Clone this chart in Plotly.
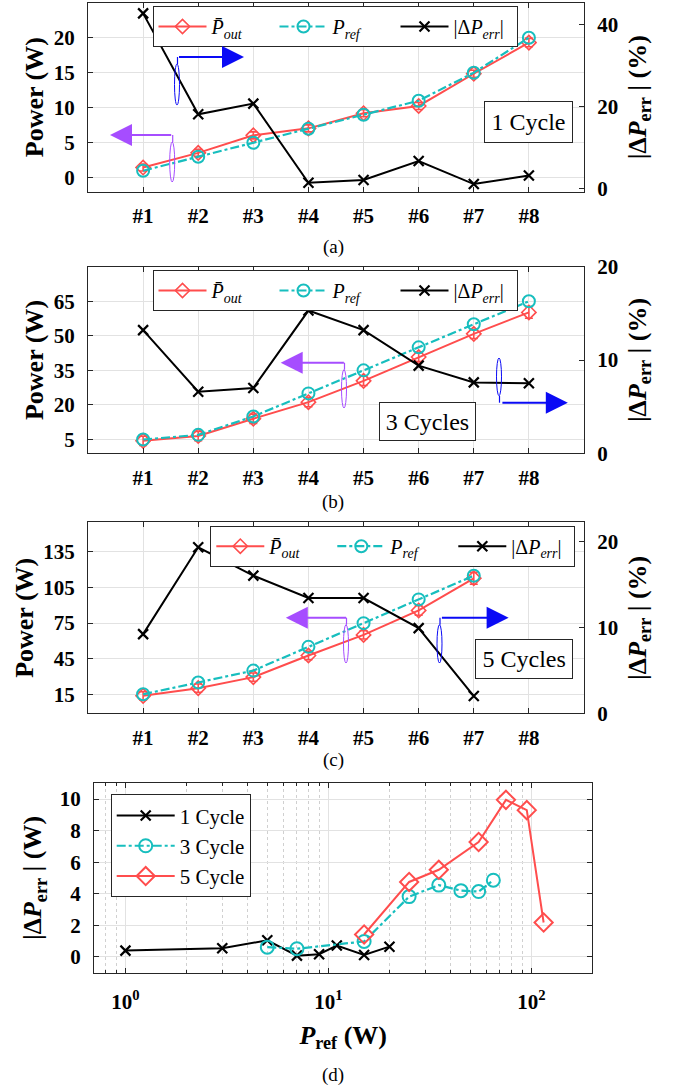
import plotly.graph_objects as go

W, H = 676, 1089

# ---------------- data ----------------
cats = ['#1', '#2', '#3', '#4', '#5', '#6', '#7', '#8']

# (a) 1 cycle
a_pout = [1.45, 3.55, 6.05, 7.05, 9.2, 10.25, 14.85, 19.3]
a_pout_bar = [0.5, 0.5, 0.5, 0.5, 0.5, 0.5, 0.5, 0.6]
a_pref = [1, 3, 5, 7, 9, 11, 15, 20]
a_err = [42.8, 18.2, 20.8, 1.5, 2.2, 6.8, 1.2, 3.3]

# (b) 3 cycles
b_pout = [4.4, 6.5, 14.0, 21.2, 30.45, 40.8, 50.85, 60.15]
b_pout_bar = [2.0, 2.0, 2.0, 2.0, 2.0, 2.0, 2.0, 2.5]
b_pref = [5, 7, 15, 25, 35, 45, 55, 65]
b_err = [13.2, 6.6, 7.0, 15.3, 13.2, 9.4, 7.6, 7.5]

# (c) 5 cycles
c_pout = [13.7, 20.2, 29.5, 47.7, 65.1, 85.7, 112.8]
c_pout_bar = [3.5, 3.5, 3.5, 3.5, 3.5, 4.0, 5.0]
c_pref = [15, 25, 35, 55, 75, 95, 115]
c_err = [9.2, 19.3, 16.0, 13.4, 13.4, 9.9, 2.0]

# (d) absolute error vs reference power
d1_x = [1, 3, 5, 7, 9, 11, 15, 20]
d1_y = [0.4, 0.55, 1.05, 0.08, 0.17, 0.72, 0.12, 0.65]
d3_x = [5, 7, 15, 25, 35, 45, 55, 65]
d3_y = [0.62, 0.52, 0.98, 3.82, 4.55, 4.2, 4.14, 4.86]
d5_x = [15, 25, 35, 55, 75, 95, 115]
d5_y = [1.42, 4.75, 5.52, 7.28, 9.95, 9.3, 2.18]

# ---------------- style ----------------
RED = '#FF4D4D'
CYAN = '#17BEBE'
BLACK = '#000000'
BLUE = '#0A0AF5'
PURPLE = '#A64DFF'
SERIF = 'Times New Roman, Liberation Serif, Tinos, DejaVu Serif, serif'
GRID = '#E2E2E2'
AXC = '#262626'


def px(x):
    return x / W


def py(y):
    return 1 - y / H


tickfont = dict(family=SERIF, size=21, color='black', weight='bold')
titlefont = dict(family=SERIF, size=26, color='black', weight='bold')
legfont = dict(family=SERIF, size=20, color='black')

fig = go.Figure()

xidx = [i + 1 for i in range(len(cats))]

panels = [
    ('x', 'y', 'y2', a_pout, a_pout_bar, a_pref, a_err, 'legend'),
    ('x2', 'y3', 'y4', b_pout, b_pout_bar, b_pref, b_err, 'legend2'),
    ('x3', 'y5', 'y6', c_pout, c_pout_bar, c_pref, c_err, 'legend3'),
]

for xa, yl, yr, pout, bar, pref, err, leg in panels:
    n = len(pout)
    xs = xidx[:n]
    fig.add_trace(go.Scatter(
        x=xs, y=pout, xaxis=xa, yaxis=yl, legend=leg,
        name='<i>P̄</i><sub><i>out</i></sub>', mode='lines+markers',
        line=dict(color=RED, width=2),
        marker=dict(symbol='diamond-open', size=11, color=RED, line=dict(width=1.6, color=RED)),
        error_y=dict(type='data', array=bar, color=RED, thickness=1.6, width=4),
    ))
    fig.add_trace(go.Scatter(
        x=xs, y=pref, xaxis=xa, yaxis=yl, legend=leg,
        name='<i>P</i><sub><i>ref</i></sub>', mode='lines+markers',
        line=dict(color=CYAN, width=2.2, dash='dashdot'),
        marker=dict(symbol='circle-open', size=12, color=CYAN, line=dict(width=2, color=CYAN)),
    ))
    fig.add_trace(go.Scatter(
        x=xs, y=err, xaxis=xa, yaxis=yr, legend=leg,
        name='|Δ<i>P</i><sub><i>err</i></sub>|', mode='lines+markers',
        line=dict(color=BLACK, width=2),
        marker=dict(symbol='x-thin-open', size=10, color=BLACK, line=dict(width=2.2, color=BLACK)),
    ))

# (d)
fig.add_trace(go.Scatter(
    x=d1_x, y=d1_y, xaxis='x4', yaxis='y7', legend='legend4', name='1 Cycle',
    mode='lines+markers', line=dict(color=BLACK, width=2),
    marker=dict(symbol='x-thin-open', size=10, color=BLACK, line=dict(width=2.2, color=BLACK)),
))
fig.add_trace(go.Scatter(
    x=d3_x, y=d3_y, xaxis='x4', yaxis='y7', legend='legend4', name='3 Cycle',
    mode='lines+markers', line=dict(color=CYAN, width=2.2, dash='dashdot'),
    marker=dict(symbol='circle-open', size=13, color=CYAN, line=dict(width=2, color=CYAN)),
))
fig.add_trace(go.Scatter(
    x=d5_x, y=d5_y, xaxis='x4', yaxis='y7', legend='legend4', name='5 Cycle',
    mode='lines+markers', line=dict(color=RED, width=2),
    marker=dict(symbol='diamond-open', size=14, color=RED, line=dict(width=2, color=RED)),
))

# ---------------- axes ----------------
xdom = [px(88), px(584)]
rows = [  # (top, bottom) pixel rows of each frame in the reference
    (2.7, 191.7),
    (266.7, 453.3),
    (522.3, 713.3),
]
left_ranges = [[-2, 25], [-1, 80], [-1, 160]]
left_ticks = [[0, 5, 10, 15, 20], [5, 20, 35, 50, 65], [15, 45, 75, 105, 135]]
right_ranges = [[-0.66, 45.4], [0, 20], [0, 22.2]]
right_ticks = [[0, 20, 40], [0, 10, 20], [0, 10, 20]]

common_axis = dict(showline=True, linecolor=AXC, linewidth=1, ticks='inside', ticklen=5,
                   tickcolor=AXC, zeroline=False, tickfont=tickfont, automargin=False)

right_title = '<b>|Δ<i>P</i><sub>err</sub> | (%)</b>'
left_title = '<b>Power (W)</b>'

for i, (top, bot) in enumerate(rows):
    xn = 'xaxis' if i == 0 else f'xaxis{i + 1}'
    yln = 'yaxis' if i == 0 else f'yaxis{2 * i + 1}'
    yrn = f'yaxis{2 * i + 2}'
    xid = 'x' if i == 0 else f'x{i + 1}'
    ylid = 'y' if i == 0 else f'y{2 * i + 1}'
    dom = [py(bot), py(top)]
    fig.layout[xn] = dict(common_axis, domain=xdom, range=[0, 9], anchor=ylid,
                          tickmode='array', tickvals=xidx, ticktext=cats,
                          showgrid=True, gridcolor=GRID, mirror='ticks',
                          ticklabelstandoff=5)
    fig.layout[yln] = dict(common_axis, domain=dom, range=left_ranges[i], anchor=xid,
                           tickmode='array', tickvals=left_ticks[i], showgrid=True,
                           gridcolor=GRID, mirror=True, ticklabelstandoff=8,
                           title=dict(text=left_title, font=titlefont, standoff=2))
    fig.layout[yrn] = dict(common_axis, domain=dom, range=right_ranges[i], anchor=xid,
                           overlaying=ylid, side='right', tickmode='array',
                           tickvals=right_ticks[i], showgrid=False, ticklabelstandoff=8,
                           title=dict(text=right_title, font=titlefont, standoff=10))

# (d) axes
minor_vals = [0.7, 0.8, 0.9, 2, 3, 4, 5, 6, 7, 8, 9, 20, 30, 40, 50, 60, 70, 80, 90, 200]
fig.layout['xaxis4'] = dict(common_axis, type='log', domain=[px(94), px(592.4)],
                            range=[-0.1549, 2.301], anchor='y7', mirror='ticks',
                            tickmode='array', tickvals=[1, 10, 100],
                            ticktext=['10<sup>0</sup>', '10<sup>1</sup>', '10<sup>2</sup>'],
                            showgrid=True, gridcolor=GRID, ticklabelstandoff=10,
                            minor=dict(tickmode='array', tickvals=minor_vals, ticks='inside',
                                       ticklen=3, tickcolor=AXC, showgrid=True,
                                       gridcolor='#D0D0D0', griddash='dot'),
                            title=dict(text='<b><i>P</i><sub>ref</sub> (W)</b>', font=titlefont,
                                       standoff=12))
fig.layout['yaxis7'] = dict(common_axis, domain=[py(972.7), py(783.3)], range=[-1, 11],
                            anchor='x4', mirror='ticks', tickmode='array',
                            tickvals=[0, 2, 4, 6, 8, 10], showgrid=True, gridcolor=GRID,
                            ticklabelstandoff=8,
                            title=dict(text='<b>|Δ<i>P</i><sub>err</sub> | (W)</b>',
                                       font=titlefont, standoff=10))

# ---------------- legends ----------------
hleg = dict(orientation='h', font=legfont, bgcolor='white', bordercolor=AXC, borderwidth=1,
            xanchor='left', yanchor='top', itemwidth=48, entrywidth=58,
            entrywidthmode='pixels', tracegroupgap=0)
fig.layout.legend = dict(hleg, x=px(152.5), y=py(6))
fig.layout.legend2 = dict(hleg, x=px(152.5), y=py(270))
fig.layout.legend3 = dict(hleg, x=px(210.3), y=py(525.7))
fig.layout.legend4 = dict(orientation='v', font=dict(family=SERIF, size=21, color='black'),
                          bgcolor='white', bordercolor=AXC, borderwidth=1,
                          xanchor='left', yanchor='top', x=px(110.7), y=py(794.3),
                          itemwidth=58, tracegroupgap=0)

# ---------------- annotations ----------------
ann = []
for lab, yy in [('(a)', 247), ('(b)', 502), ('(c)', 760), ('(d)', 1075)]:
    ann.append(dict(text=lab, x=px(333), y=py(yy), xref='paper', yref='paper',
                    showarrow=False, font=dict(family=SERIF, size=19, color='black'),
                    xanchor='center', yanchor='middle'))

for txt, x0, x1, y0, y1 in [('1 Cycle', 484, 573, 101, 143),
                             ('3 Cycles', 379, 476, 401.7, 441),
                             ('5 Cycles', 475, 573.4, 639, 679)]:
    ann.append(dict(text=txt, x=px((x0 + x1) / 2), y=py((y0 + y1) / 2), xref='paper',
                    yref='paper', showarrow=False, bgcolor='white', bordercolor=AXC,
                    borderwidth=1, borderpad=2, width=x1 - x0 - 6, height=y1 - y0 - 6,
                    font=dict(family=SERIF, size=24, color='black'),
                    xanchor='center', yanchor='middle'))

arrows = [  # (tail_x, tail_y, head_x, head_y, color)
    (177.5, 57, 244, 57, BLUE),
    (172.7, 135, 110, 135, PURPLE),
    (345.4, 362.7, 280.7, 362.7, PURPLE),
    (500.9, 402.7, 567.8, 402.7, BLUE),
    (347.6, 617.7, 285.8, 617.7, PURPLE),
    (440.4, 617.7, 508.6, 617.7, BLUE),
]
for tx, ty, hx, hy, col in arrows:
    ann.append(dict(text='', x=px(hx), y=py(hy), xref='paper', yref='paper',
                    ax=tx - hx, ay=ty - hy, axref='pixel', ayref='pixel',
                    showarrow=True, arrowhead=2, arrowsize=2.2, arrowwidth=2,
                    arrowcolor=col))
fig.layout.annotations = ann

# brackets linking arrows to curves
brackets = [  # (x, y_start, y_end, color)
    (177.5, 57, 105, BLUE),
    (172.7, 135, 182, PURPLE),
    (344.5, 362.7, 408, PURPLE),
    (499.5, 402.7, 358, BLUE),
    (346.5, 617.7, 663, PURPLE),
    (440.0, 617.7, 663, BLUE),
]
shapes = []
for bx, ys, ye, col in brackets:
    s = 1 if ye > ys else -1
    ym = ys + s * 7
    shapes.append(dict(type='line', xref='paper', yref='paper', x0=px(bx), x1=px(bx),
                       y0=py(ys), y1=py(ym), line=dict(color=col, width=1.2)))
    shapes.append(dict(type='circle', xref='paper', yref='paper', x0=px(bx - 3),
                       x1=px(bx + 2), y0=py(ym), y1=py(ye),
                       line=dict(color=col, width=1.0)))
fig.layout.shapes = shapes

fig.update_layout(width=W, height=H,
                  margin=dict(l=0, r=0, t=0, b=0, autoexpand=False),
                  plot_bgcolor='white', paper_bgcolor='white', showlegend=True)

fig.write_html('out.html', config={'displayModeBar': False},
               post_script="document.body.style.margin = '0px';")
